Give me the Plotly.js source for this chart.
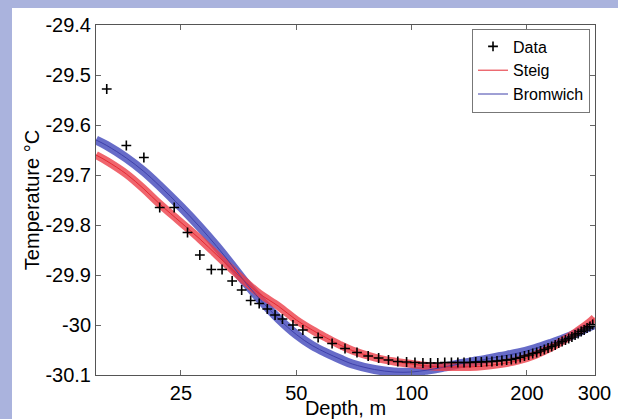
<!DOCTYPE html>
<html>
<head>
<meta charset="utf-8">
<script src="https://cdn.plot.ly/plotly-3.0.1.min.js"></script>
<style>
  html, body { margin: 0; padding: 0; width: 618px; height: 419px; overflow: hidden; background: #aab3dd; }
  #chart { position: absolute; left: 12px; top: 8px; width: 606px; height: 411px; background: #ffffff; }
</style>
</head>
<body>
<div id="chart"></div>
<script>
// Measured data (depth in m, temperature in °C)
const dataDepth = [16, 18, 20, 22, 24, 26, 28, 30, 32, 34, 36, 38, 40, 42, 44, 46, 49,
  52, 57, 62, 67, 72, 77, 82, 87, 92, 97, 102, 107, 112, 117, 122, 127, 132, 137, 142,
  147, 152, 157, 162, 167, 172, 177, 182, 187, 192, 197, 202, 207, 212, 217, 222, 227,
  232, 237, 242, 247, 252, 257, 262, 267, 272, 277, 282, 287, 292, 297];
const dataTemp = [-29.528, -29.641, -29.665, -29.765, -29.765, -29.815, -29.860, -29.889,
  -29.889, -29.912, -29.930, -29.951, -29.957, -29.968, -29.980, -29.988, -30.000,
  -30.010, -30.025, -30.037, -30.047, -30.055, -30.062, -30.066, -30.070, -30.073,
  -30.074, -30.075, -30.076, -30.076, -30.076, -30.075, -30.075, -30.075, -30.075,
  -30.075, -30.074, -30.074, -30.073, -30.073, -30.072, -30.071, -30.070, -30.069,
  -30.067, -30.065, -30.062, -30.060, -30.057, -30.055, -30.052, -30.049, -30.046,
  -30.043, -30.040, -30.036, -30.033, -30.030, -30.027, -30.024, -30.020, -30.017,
  -30.013, -30.010, -30.006, -30.003, -29.999];

// Model curves
const modelDepth = [15, 16, 18, 20, 22, 25, 28, 31, 34, 37, 40, 45, 50, 55, 60, 65, 70,
  80, 90, 100, 110, 120, 135, 150, 170, 190, 210, 230, 250, 270, 290, 300];
const steigTemp = [-29.660, -29.672, -29.698, -29.728, -29.758, -29.795, -29.828, -29.860,
  -29.889, -29.915, -29.937, -29.963, -29.990, -30.010, -30.026, -30.040, -30.051,
  -30.065, -30.073, -30.078, -30.082, -30.084, -30.084, -30.083, -30.078, -30.071,
  -30.060, -30.046, -30.030, -30.013, -29.996, -29.986];
const bromwichTemp = [-29.630, -29.641, -29.666, -29.693, -29.722, -29.764, -29.804, -29.843,
  -29.881, -29.917, -29.947, -29.988, -30.019, -30.041, -30.056, -30.068, -30.078,
  -30.089, -30.094, -30.094, -30.090, -30.085, -30.077, -30.071, -30.063, -30.056,
  -30.047, -30.037, -30.027, -30.016, -30.004, -29.999];

// Tick labels
const xTickVals = [25, 50, 100, 200, 300];
const xTickText = ['25', '50', '100', '200', '300'];
const yTickVals = [-29.4, -29.5, -29.6, -29.7, -29.8, -29.9, -30, -30.1];
const yTickText = ['-29.4', '-29.5', '-29.6', '-29.7', '-29.8', '-29.9', '-30', '-30.1'];

const FONT = '"Liberation Sans", Arial, Helvetica, sans-serif';

const traces = [
  { x: modelDepth, y: bromwichTemp, type: 'scatter', mode: 'lines', showlegend: false,
    hoverinfo: 'skip', line: { color: 'rgba(76,82,190,0.85)', width: 9, shape: 'spline', smoothing: 1 } },
  { x: modelDepth, y: steigTemp, type: 'scatter', mode: 'lines', showlegend: false,
    hoverinfo: 'skip', line: { color: 'rgba(236,62,72,0.8)', width: 8, shape: 'spline', smoothing: 1 } },
  { x: modelDepth, y: bromwichTemp, type: 'scatter', mode: 'lines', name: 'Bromwich',
    legendrank: 3, line: { color: 'rgb(62,64,170)', width: 1, shape: 'spline', smoothing: 1 } },
  { x: modelDepth, y: steigTemp, type: 'scatter', mode: 'lines', name: 'Steig',
    legendrank: 2, line: { color: 'rgb(228,40,50)', width: 1, shape: 'spline', smoothing: 1 } },
  { x: dataDepth, y: dataTemp, type: 'scatter', mode: 'markers', name: 'Data',
    legendrank: 1,
    marker: { symbol: 'cross-thin', size: 7, color: '#000', line: { color: '#000', width: 1.6 } } }
];

const layout = {
  width: 606, height: 411,
  margin: { l: 84, r: 23, t: 17, b: 44 },
  paper_bgcolor: '#ffffff', plot_bgcolor: '#ffffff',
  font: { family: FONT, size: 20, color: '#000' },
  showlegend: true,
  legend: {
    x: 0.99, xanchor: 'right', y: 0.99, yanchor: 'top',
    bgcolor: '#ffffff', bordercolor: '#777', borderwidth: 1,
    font: { family: FONT, size: 16, color: '#000' },
    itemwidth: 30, tracegroupgap: 0
  },
  xaxis: {
    type: 'log', range: [Math.log10(15), Math.log10(301)],
    tickvals: xTickVals, ticktext: xTickText,
    ticks: 'inside', ticklen: 5, tickcolor: '#666', tickwidth: 1,
    showline: true, linecolor: '#555', linewidth: 1, mirror: 'ticks',
    showgrid: false, zeroline: false,
    tickfont: { family: FONT, size: 20, color: '#000' },
    title: { text: 'Depth, m', font: { family: FONT, size: 20, color: '#000' }, standoff: 1 }
  },
  yaxis: {
    range: [-30.1, -29.4],
    tickvals: yTickVals, ticktext: yTickText,
    ticks: 'inside', ticklen: 5, tickcolor: '#666', tickwidth: 1,
    showline: true, linecolor: '#555', linewidth: 1, mirror: 'ticks',
    showgrid: false, zeroline: false,
    tickfont: { family: FONT, size: 20, color: '#000' },
    title: { text: 'Temperature °C', font: { family: FONT, size: 20, color: '#000' }, standoff: 0 }
  }
};

Plotly.newPlot('chart', traces, layout, { staticPlot: true, displayModeBar: false });
</script>
</body>
</html>
